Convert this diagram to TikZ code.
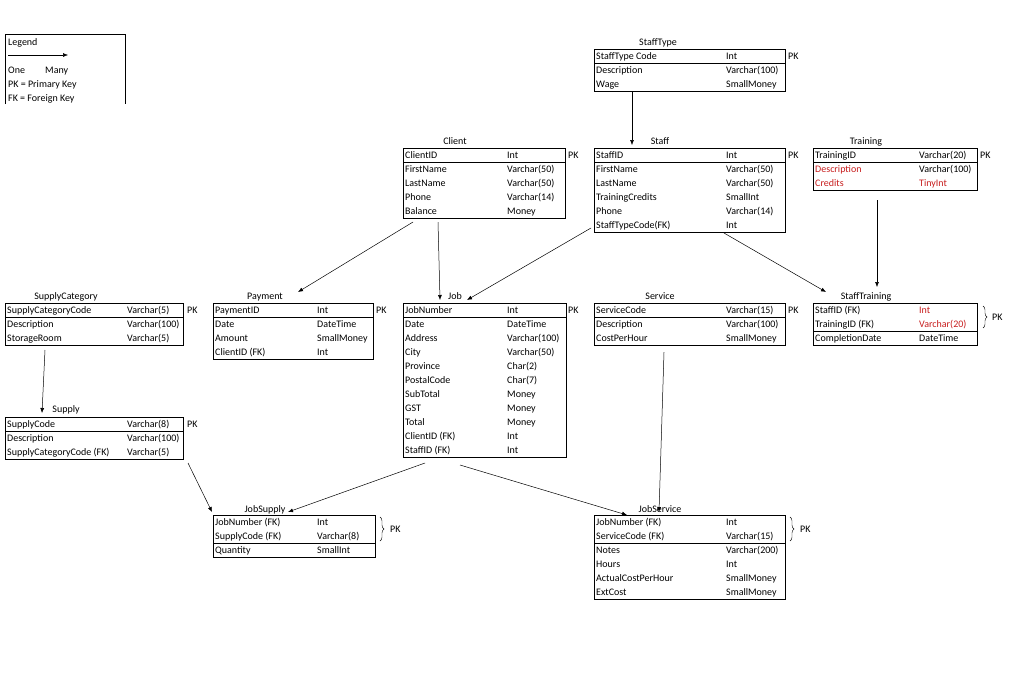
\documentclass[tikz,border=0pt]{standalone}
\usepackage{fontspec}
\setmainfont{Carlito}
\usetikzlibrary{arrows.meta,decorations.pathreplacing}
\definecolor{fkred}{RGB}{200,30,30}
\tikzset{cell/.style={anchor=base west,inner sep=0pt,font=\fontsize{10}{12}\selectfont},
 ttl/.style={anchor=base,inner sep=0pt,font=\fontsize{10}{12}\selectfont},
 rel/.style={-{Latex[length=5pt,width=4pt]},line width=0.5pt},
 box/.style={line width=0.8pt}}
\newcommand\ertab[8]{%
 \foreach[count=\i] \a/\b in {#8} {
  \node[cell] at ({#2+2},{#3+10.5+14*(\i-1)}) {\a};
  \node[cell] at ({#2+#5},{#3+10.5+14*(\i-1)}) {\b};}
 \draw[box] (#2,#3) rectangle ({#2+#4},{#3+14*#7});
 \draw[box] (#2,{#3+14*#6}) -- ++(#4,0);
 \coordinate (#1) at (#2,#3);}
\begin{document}
\begin{tikzpicture}[x=1pt,y=-1pt]
\useasboundingbox (0,0) rectangle (1024,678);
\fill[white] (0,0) rectangle (1024,678);
% legend
\draw[box] (5,104) -- (5,34) -- (125,34) -- (125,104);
\node[cell] (lg) at (8,45.5) {Legend};
\coordinate (la) at (8,55); \coordinate (lb) at (68,55);
\draw[rel] (la) -- (lb);
\node[cell] at (8,73.5) {One}; \node[cell] at (45,73.5) {Many};
\node[cell] at (8,87.5) {PK = Primary Key};
\node[cell] at (8,101.5) {FK = Foreign Key};
% StaffType
\node[ttl] (tStaffType) at (658,45.5) {StaffType};
\ertab{StaffType}{594}{49}{191}{132}{1}{3}{StaffType Code/Int,Description/Varchar(100),Wage/SmallMoney}
\node[cell] at (788,59.5) {PK};
% Client
\node[ttl] (tClient) at (455,144.5) {Client};
\ertab{Client}{403}{148}{162}{104}{1}{5}{ClientID/Int,FirstName/Varchar(50),LastName/Varchar(50),Phone/Varchar(14),Balance/Money}
\node[cell] at (568,158.5) {PK};
% Staff
\node[ttl] (tStaff) at (660,144.5) {Staff};
\ertab{Staff}{594}{148}{191}{132}{1}{6}{StaffID/Int,FirstName/Varchar(50),LastName/Varchar(50),TrainingCredits/SmallInt,Phone/Varchar(14),StaffTypeCode(FK)/Int}
\node[cell] at (788,158.5) {PK};
% Training
\node[ttl] (tTraining) at (866,144.5) {Training};
\ertab{Training}{813}{148}{164}{106}{1}{3}{TrainingID/Varchar(20),{\color{fkred}Description}/Varchar(100),{\color{fkred}Credits}/{\color{fkred}TinyInt}}
\node[cell] at (980,158.5) {PK};
% SupplyCategory
\node[ttl] (tSC) at (66,299.5) {SupplyCategory};
\ertab{SC}{5}{303}{178}{122}{1}{3}{SupplyCategoryCode/Varchar(5),Description/Varchar(100),StorageRoom/Varchar(5)}
\node[cell] at (187,313.5) {PK};
% Payment
\node[ttl] (tPayment) at (265,299.5) {Payment};
\ertab{Payment}{213}{303}{160}{104}{1}{4}{PaymentID/Int,Date/DateTime,Amount/SmallMoney,ClientID (FK)/Int}
\node[cell] at (376,313.5) {PK};
% Job
\node[ttl] (tJob) at (455,299.5) {Job};
\ertab{Job}{403}{303}{163}{104}{1}{11}{JobNumber/Int,Date/DateTime,Address/Varchar(100),City/Varchar(50),Province/Char(2),PostalCode/Char(7),SubTotal/Money,GST/Money,Total/Money,ClientID (FK)/Int,StaffID (FK)/Int}
\node[cell] at (568,313.5) {PK};
% Service
\node[ttl] (tService) at (660,299.5) {Service};
\ertab{Service}{594}{303}{191}{132}{1}{3}{ServiceCode/Varchar(15),Description/Varchar(100),CostPerHour/SmallMoney}
\node[cell] at (788,313.5) {PK};
% StaffTraining
\node[ttl] (tST) at (866,299.5) {StaffTraining};
\ertab{ST}{813}{303}{164}{106}{2}{3}{StaffID (FK)/{\color{fkred}Int},TrainingID (FK)/{\color{fkred}Varchar(20)},CompletionDate/DateTime}
\draw[decorate,decoration={brace,amplitude=4pt}] (983,306) -- (983,328);
\node[cell] at (992,320.5) {PK};
% Supply
\node[ttl] (tSupply) at (66,412.5) {Supply};
\ertab{Supply}{5}{417}{178}{122}{1}{3}{SupplyCode/Varchar(8),Description/Varchar(100),SupplyCategoryCode (FK)/Varchar(5)}
\node[cell] at (187,427.5) {PK};
% JobSupply
\node[ttl] (tJS) at (265,512.5) {JobSupply};
\ertab{JS}{213}{515}{162}{104}{2}{3}{JobNumber (FK)/Int,SupplyCode (FK)/Varchar(8),Quantity/SmallInt}
\draw[decorate,decoration={brace,amplitude=4pt}] (380,517) -- (380,541);
\node[cell] at (390,532.5) {PK};
% JobService
\node[ttl] (tJV) at (660,512.5) {JobService};
\ertab{JV}{594}{515}{191}{132}{2}{6}{JobNumber (FK)/Int,ServiceCode (FK)/Varchar(15),Notes/Varchar(200),Hours/Int,ActualCostPerHour/SmallMoney,ExtCost/SmallMoney}
\draw[decorate,decoration={brace,amplitude=4pt}] (790,517) -- (790,541);
\node[cell] at (800,532.5) {PK};
% connector end points
\coordinate (a1) at (632,91);  \coordinate (b1) at (632,145);
\coordinate (a2) at (413,222); \coordinate (b2) at (298,292);
\coordinate (a3) at (438,222); \coordinate (b3) at (440,300);
\coordinate (a4) at (591,228); \coordinate (b4) at (467,300);
\coordinate (a5) at (724,233); \coordinate (b5) at (826,292);
\coordinate (a6) at (877,200); \coordinate (b6) at (877,287);
\coordinate (a7) at (664,352); \coordinate (b7) at (659,512);
\coordinate (a8) at (45,350);  \coordinate (b8) at (42,413);
\coordinate (a9) at (188,463); \coordinate (b9) at (212,512);
\coordinate (a10) at (425,463); \coordinate (b10) at (288,512);
\coordinate (a11) at (460,465); \coordinate (b11) at (627,515);
\foreach \k in {1,...,11} \draw[rel] (a\k) -- (b\k);
\end{tikzpicture}
\end{document}
